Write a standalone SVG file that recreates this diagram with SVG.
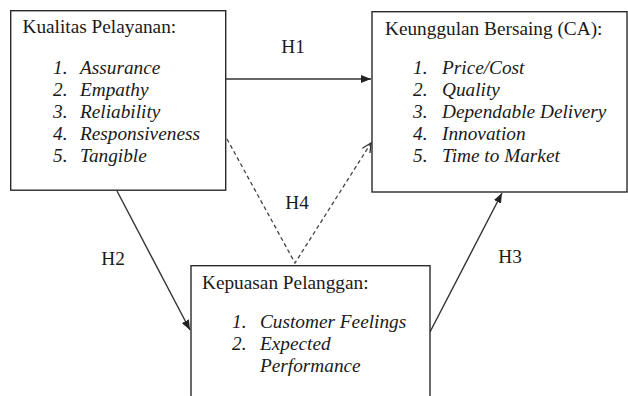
<svg xmlns="http://www.w3.org/2000/svg" width="628" height="396" viewBox="0 0 628 396">
<style>
.box{fill:#fff;stroke:#2a2a2a;stroke-width:1.4}
.t{font-family:"Liberation Serif","Times New Roman",serif;font-size:19.3px;fill:#1a1a1a}
.i{font-style:italic}
.ln{stroke:#333;stroke-width:1.4;fill:none}
.dash{stroke:#444;stroke-width:1.3;fill:none;stroke-dasharray:4 3}
</style>
<defs>
<marker id="ah" markerUnits="userSpaceOnUse" markerWidth="10" markerHeight="8" refX="10" refY="4" orient="auto">
<path d="M0,0 L10,4 L0,8 z" fill="#222"/>
</marker>
<marker id="oh" markerUnits="userSpaceOnUse" markerWidth="12" markerHeight="12" refX="10" refY="6" orient="auto">
<path d="M1,1.5 L10,6 L1,10.5" fill="none" stroke="#333" stroke-width="1.3"/>
</marker>
</defs>
<g id="connectors">
<line class="ln" x1="226" y1="79" x2="371" y2="79" marker-end="url(#ah)"/>
<line class="ln" x1="117" y1="191" x2="190" y2="330" marker-end="url(#ah)"/>
<line class="ln" x1="430" y1="332" x2="502" y2="193" marker-end="url(#ah)"/>
<polyline class="dash" points="227,139 295,263 371,143" marker-end="url(#oh)"/>
<text class="t" x="293" y="53" text-anchor="middle">H1</text>
<text class="t" x="113" y="265" text-anchor="middle">H2</text>
<text class="t" x="510" y="263" text-anchor="middle">H3</text>
<text class="t" x="297" y="209" text-anchor="middle">H4</text>
</g>
<g id="kualitas">
<rect class="box" x="10.7" y="10.7" width="215" height="179.5"/>
<text class="t" x="22.5" y="33">Kualitas Pelayanan:</text>
<g class="t i">
<text x="53" y="73.5">1.</text><text x="80" y="73.5">Assurance</text>
<text x="53" y="95.5">2.</text><text x="80" y="95.5">Empathy</text>
<text x="53" y="117.5">3.</text><text x="80" y="117.5">Reliability</text>
<text x="53" y="139.5">4.</text><text x="80" y="139.5">Responsiveness</text>
<text x="53" y="161.5">5.</text><text x="80" y="161.5">Tangible</text>
</g>
</g>
<g id="keunggulan">
<rect class="box" x="372" y="11.7" width="255" height="180.3"/>
<text class="t" x="385" y="35">Keunggulan Bersaing (CA):</text>
<g class="t i">
<text x="413" y="74">1.</text><text x="442" y="74">Price/Cost</text>
<text x="413" y="96">2.</text><text x="442" y="96">Quality</text>
<text x="413" y="118">3.</text><text x="442" y="118">Dependable Delivery</text>
<text x="413" y="140">4.</text><text x="442" y="140">Innovation</text>
<text x="413" y="162">5.</text><text x="442" y="162">Time to Market</text>
</g>
</g>
<g id="kepuasan">
<rect class="box" x="191" y="265.7" width="239" height="150"/>
<text class="t" x="202" y="289">Kepuasan Pelanggan:</text>
<g class="t i">
<text x="232" y="328">1.</text><text x="260" y="328">Customer Feelings</text>
<text x="232" y="350">2.</text><text x="260" y="350">Expected</text>
<text x="260" y="372">Performance</text>
</g>
</g>
</svg>
